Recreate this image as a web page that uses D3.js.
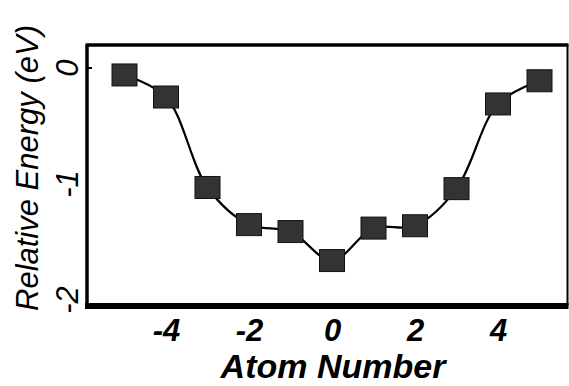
<!DOCTYPE html>
<html><head><meta charset="utf-8">
<script src="https://cdn.jsdelivr.net/npm/d3@7"></script>
<style>html,body{margin:0;padding:0;background:#fff;}svg{display:block;}</style>
</head><body>
<svg id="c" width="569" height="386"></svg>
<script>
const atoms = [-5,-4,-3,-2,-1,0,1,2,3,4,5];
const energy = [-0.06,-0.25,-1.03,-1.35,-1.41,-1.66,-1.38,-1.36,-1.04,-0.31,-0.11];
const xTicks = [-4,-2,0,2,4];
const yTicks = [0,-1,-2];
const xTitle = "Atom Number";
const yTitle = "Relative Energy (eV)";

const svg = d3.select("#c");
const x = d3.scaleLinear().domain([-5,5]).range([124.5,539.5]);
const y = d3.scaleLinear().domain([-2,0]).range([300,68]);

// frame
const L=87, R=567.5, T=45, B=306;
svg.append("line").attr("x1",L-1.5).attr("x2",R+1).attr("y1",T).attr("y2",T).attr("stroke","#000").attr("stroke-width",3.5);
svg.append("line").attr("x1",L-2).attr("x2",R+1).attr("y1",B).attr("y2",B).attr("stroke","#000").attr("stroke-width",6);
svg.append("line").attr("x1",L).attr("x2",L).attr("y1",T).attr("y2",B).attr("stroke","#000").attr("stroke-width",3.5);
svg.append("line").attr("x1",R).attr("x2",R).attr("y1",T).attr("y2",B).attr("stroke","#000").attr("stroke-width",2);

// x axis labels (no visible ticks)
const xAxis = d3.axisBottom(x).tickValues(xTicks).tickSize(0).tickPadding(0).tickFormat(d=>String(d));
const gx = svg.append("g").attr("transform",`translate(0,${B})`).call(xAxis);
gx.select(".domain").remove();
gx.selectAll("text").attr("dy",null).attr("y",35)
  .style("font-family","'Liberation Sans',Arial,sans-serif").style("font-size","31px")
  .style("font-weight","bold").style("font-style","italic").attr("fill","#000");

// y axis labels rotated
const gy = svg.append("g");
gy.selectAll("text").data(yTicks).join("text")
  .attr("transform",d=>`translate(78,${y(d)}) rotate(-90)`)
  .attr("text-anchor","middle")
  .style("font-family","'Liberation Sans',Arial,sans-serif").style("font-size","31px")
  .style("font-style","italic").attr("fill","#000")
  .text(d=>d);
gy.selectAll("line").data([0]).join("line")
  .attr("x1",L).attr("x2",L+5).attr("y1",d=>y(d)).attr("y2",d=>y(d)).attr("stroke","#000").attr("stroke-width",2);

// titles
svg.append("text").attr("x",333).attr("y",378).attr("text-anchor","middle")
  .style("font-family","'Liberation Sans',Arial,sans-serif").style("font-size","34px")
  .style("font-weight","bold").style("font-style","italic").text(xTitle);
svg.append("text").attr("transform","translate(38,168) rotate(-90)").attr("text-anchor","middle")
  .style("font-family","'Liberation Sans',Arial,sans-serif").style("font-size","31px")
  .style("font-style","italic").style("font-weight","500").text(yTitle);

// line
const data = atoms.map((a,i)=>({a, e:energy[i]}));
svg.append("path").datum(data)
  .attr("d", d3.line().x(d=>x(d.a)).y(d=>y(d.e)).curve(d3.curveCatmullRom.alpha(0.5)))
  .attr("fill","none").attr("stroke","#000").attr("stroke-width",2.2);

// squares
const sw=25, sh=22;
svg.append("g").selectAll("rect").data(data).join("rect")
  .attr("x",d=>x(d.a)-sw/2).attr("y",d=>y(d.e)-sh/2)
  .attr("width",sw).attr("height",sh)
  .attr("fill","#333").attr("stroke","#111").attr("stroke-width",1);
</script>
</body></html>
